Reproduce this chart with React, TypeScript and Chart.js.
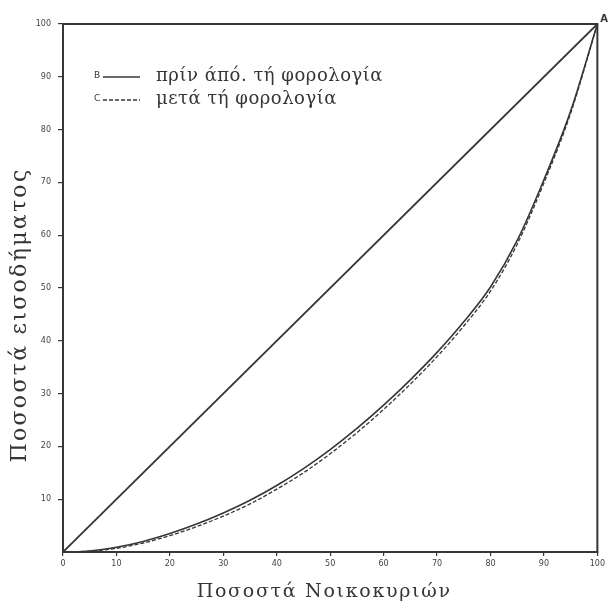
import { useEffect, useRef } from "react";
import { Chart, registerables } from "chart.js";

Chart.register(...registerables);

// ---- data ----
const householdShare = [0, 5, 10, 15, 20, 25, 30, 35, 40, 45, 50, 55, 60, 65, 70, 75, 80, 85, 90, 95, 100];
const incomeBeforeTax = [0, 0.2, 0.9, 2.0, 3.5, 5.3, 7.4, 9.8, 12.6, 15.8, 19.4, 23.4, 27.8, 32.6, 37.8, 43.6, 50.2, 59, 70.5, 83.5, 100];
const incomeAfterTax = [0, 0.15, 0.7, 1.7, 3.1, 4.8, 6.8, 9.1, 11.9, 15.0, 18.6, 22.6, 27, 31.8, 37, 42.8, 49.4, 58.3, 69.9, 83.1, 100];
const equalityX = [0, 100];
const equalityY = [0, 100];
const tickValues = [0, 10, 20, 30, 40, 50, 60, 70, 80, 90, 100];
const legendKeys = ["B", "C"];
const legendLabels = ["πρίν άπό. τή φορολογία", "μετά τή φορολογία"];
const cornerLabel = "A";
const xTitle = "Ποσοστά Νοικοκυριών";
const yTitle = "Ποσοστά εισοδήματος";

const INK = "#363636";
const SERIF = "'DejaVu Serif', 'Liberation Serif', serif";
const SANS = "'DejaVu Sans', 'Liberation Sans', sans-serif";

const decorPlugin = {
  id: "decor",
  afterDraw(chart: any) {
    const { ctx, chartArea } = chart;
    const { left, right, top, bottom } = chartArea;
    ctx.save();
    // frame: top and right edges
    ctx.strokeStyle = INK;
    ctx.lineWidth = 2;
    ctx.beginPath();
    ctx.moveTo(left - 1, top);
    ctx.lineTo(right, top);
    ctx.lineTo(right, bottom + 1);
    ctx.stroke();

    // legend
    [0, 1].forEach((i) => {
      const y = top + 52 + i * 23;
      ctx.fillStyle = INK;
      ctx.font = `9px ${SANS}`;
      ctx.textAlign = "left";
      ctx.textBaseline = "middle";
      (ctx as any).letterSpacing = "0px";
      ctx.fillText(legendKeys[i], left + 31, y);
      ctx.strokeStyle = INK;
      ctx.lineWidth = 1.5;
      ctx.setLineDash(i === 0 ? [] : [4, 2]);
      ctx.beginPath();
      ctx.moveTo(left + 40, y + 1);
      ctx.lineTo(left + 77, y + 1);
      ctx.stroke();
      ctx.setLineDash([]);
      ctx.font = `18px ${SERIF}`;
      (ctx as any).letterSpacing = "0.5px";
      ctx.fillText(legendLabels[i], left + 93, y);
    });

    // corner label
    (ctx as any).letterSpacing = "0px";
    ctx.font = `bold 10px ${SANS}`;
    ctx.textAlign = "left";
    ctx.textBaseline = "middle";
    ctx.fillText(cornerLabel, right + 3, top - 5);

    // axis titles
    ctx.font = `19px ${SERIF}`;
    (ctx as any).letterSpacing = "1.7px";
    ctx.textAlign = "center";
    ctx.textBaseline = "alphabetic";
    ctx.fillText(xTitle, (left + right) / 2 - 6, bottom + 45);

    ctx.translate(26, (top + bottom) / 2 + 27);
    ctx.rotate(-Math.PI / 2);
    ctx.font = `22px ${SERIF}`;
    (ctx as any).letterSpacing = "2.3px";
    ctx.fillText(yTitle, 0, 0);
    ctx.restore();
  },
};

export default function App() {
  const canvasRef = useRef<HTMLCanvasElement | null>(null);

  useEffect(() => {
    if (!canvasRef.current) return;
    const toPoints = (xs: number[], ys: number[]) => xs.map((x, i) => ({ x, y: ys[i] }));
    const chart = new Chart(canvasRef.current, {
      type: "line",
      data: {
        datasets: [
          {
            label: "equality",
            data: toPoints(equalityX, equalityY),
            borderColor: INK,
            borderWidth: 1.8,
            pointRadius: 0,
            tension: 0,
          },
          {
            label: legendLabels[0],
            data: toPoints(householdShare, incomeBeforeTax),
            borderColor: INK,
            borderWidth: 1.6,
            pointRadius: 0,
            cubicInterpolationMode: "monotone",
          },
          {
            label: legendLabels[1],
            data: toPoints(householdShare, incomeAfterTax),
            borderColor: INK,
            borderWidth: 1.3,
            borderDash: [4, 2],
            pointRadius: 0,
            cubicInterpolationMode: "monotone",
          },
        ],
      },
      options: {
        animation: false,
        responsive: true,
        maintainAspectRatio: false,
        layout: { padding: { top: 24, right: 10, left: 0, bottom: 0 } },
        plugins: { legend: { display: false }, tooltip: { enabled: false } },
        scales: {
          x: {
            type: "linear",
            min: 0,
            max: 100,
            afterFit: (s: any) => {
              s.height = 52;
            },
            afterBuildTicks: (s: any) => {
              s.ticks = tickValues.map((v) => ({ value: v }));
            },
            border: { display: true, color: INK, width: 2 },
            grid: { drawOnChartArea: false, drawTicks: true, tickLength: 4, color: INK, lineWidth: 1.2 },
            ticks: { color: "#444", font: { size: 8, family: SANS }, padding: 3, maxRotation: 0 },
          },
          y: {
            type: "linear",
            min: 0,
            max: 100,
            afterFit: (s: any) => {
              s.width = 63;
            },
            afterBuildTicks: (s: any) => {
              s.ticks = tickValues.filter((v) => v > 0).map((v) => ({ value: v }));
            },
            border: { display: true, color: INK, width: 2 },
            grid: { drawOnChartArea: false, drawTicks: true, tickLength: 5, color: INK, lineWidth: 1.2 },
            ticks: { color: "#444", font: { size: 8, family: SANS }, padding: 7 },
          },
        },
      },
      plugins: [decorPlugin],
    });
    return () => chart.destroy();
  }, []);

  return (
    <div style={{ position: "absolute", left: 0, top: 0, width: 608, height: 604, background: "#fff" }}>
      <canvas ref={canvasRef} />
    </div>
  );
}
